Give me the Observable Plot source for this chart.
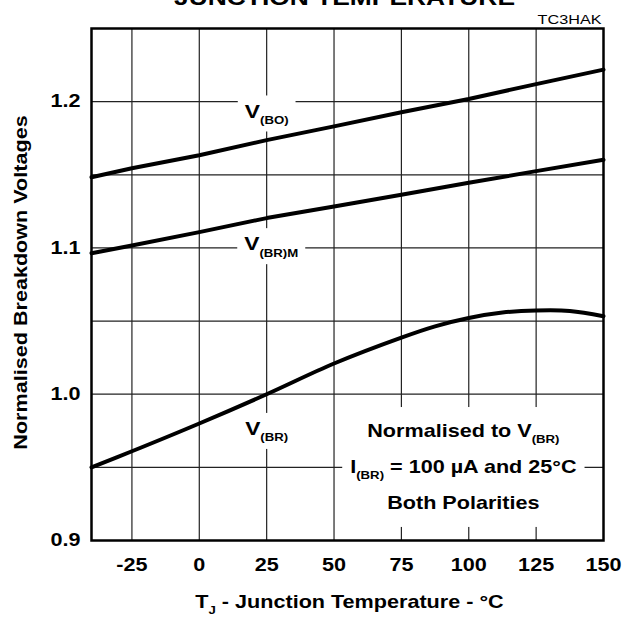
<!DOCTYPE html>
<html><head><meta charset="utf-8">
<script src="https://cdn.jsdelivr.net/npm/d3@7"></script>
<script src="https://cdn.jsdelivr.net/npm/@observablehq/plot@0.6"></script>
<style>html,body{margin:0;padding:0;background:#fff;overflow:hidden}</style>
</head><body><div id="chart"></div>
<script>
// ---- data ----
const temps = [-40, -25, 0, 25, 50, 75, 100, 125, 150];
const vBO  = [1.1483, 1.1545, 1.1634, 1.1737, 1.1831, 1.1927, 1.2018, 1.2120, 1.2219];
const vBRM = [1.0964, 1.1017, 1.1108, 1.1204, 1.1283, 1.1363, 1.1445, 1.1525, 1.1603];
const tempsBR = [-40, -25, 0, 25, 50, 75, 87.5, 100, 112.5, 125, 137.5, 150];
const vBR = [0.950, 0.961, 0.980, 1.000, 1.021, 1.0387, 1.0464, 1.0521, 1.0558, 1.0572, 1.0569, 1.0533];
const xTicks = [-25, 0, 25, 50, 75, 100, 125, 150];
const xGrid = [-25, 0, 25, 50, 75, 100, 125];
const yTicks = [0.9, 1.0, 1.1, 1.2];
const yGrid = [0.95, 1.0, 1.05, 1.1, 1.15, 1.2];
const curveLabels = ["V_{(BO)}", "V_{(BR)M}", "V_{(BR)}"];
const curveLabelT = [25, 26.7, 25];
const curveLabelV = [1.1932, 1.1025, 0.9762];
const noteText = "Normalised to V_{(BR)}\nI_{(BR)} = 100 µA and 25°C\nBoth Polarities";
const noteT = 98;
const noteV = 0.9538;
const title = "JUNCTION TEMPERATURE";
const figId = "TC3HAK";
const xTitle = "T_{J} - Junction Temperature - °C";
const yTitle = "Normalised Breakdown Voltages";

const S = 1.2; // horizontal stretch of the lettering
const ns = "http://www.w3.org/2000/svg";

const lineData = (ts, vs) => ts.map((t, i) => ({t, v: vs[i]}));
const bold = {fontWeight: "bold", fill: "black"};

const plot = Plot.plot({
  width: 630, height: 617,
  marginLeft: 91, marginRight: 27, marginTop: 28, marginBottom: 77,
  x: {domain: [-40, 150]},
  y: {domain: [0.9, 1.25]},
  style: {fontFamily: '"Liberation Sans", Arial, sans-serif', background: "white", color: "black", overflow: "visible"},
  marks: [
    Plot.ruleY(yGrid, {stroke: "#222", strokeWidth: 1.2}),
    Plot.ruleX(xGrid, {stroke: "#222", strokeWidth: 1.2}),
    Plot.text(curveLabels, {x: (d, i) => curveLabelT[i], y: (d, i) => curveLabelV[i], text: d => d, fontSize: 19, ...bold}),
    Plot.text([noteText], {x: () => noteT, y: () => noteV, text: d => d, fontSize: 18, lineHeight: 2, ...bold}),
    Plot.line(lineData(temps, vBO), {x: "t", y: "v", stroke: "black", strokeWidth: 4}),
    Plot.line(lineData(temps, vBRM), {x: "t", y: "v", stroke: "black", strokeWidth: 4}),
    Plot.line(lineData(tempsBR, vBR), {x: "t", y: "v", stroke: "black", strokeWidth: 4, curve: "catmull-rom"}),
    Plot.frame({stroke: "black", strokeWidth: 2.5}),
    Plot.axisX(xTicks, {tickSize: 0, tickPadding: 17.9, tickFormat: d => `${d}`, fontSize: 18, ...bold, label: null}),
    Plot.axisY(yTicks, {tickSize: 0, tickPadding: 11, tickFormat: d => d.toFixed(1), fontSize: 18, ...bold, label: null}),
    Plot.text([title], {frameAnchor: "top", dy: -24, dx: -3, lineAnchor: "bottom", text: d => d, fontSize: 22, ...bold}),
    Plot.text([figId], {frameAnchor: "top-right", textAnchor: "end", dy: -5, dx: -2, lineAnchor: "bottom", text: d => d, fontSize: 13.5, fill: "black"}),
    Plot.text([xTitle], {frameAnchor: "bottom", dy: 67.7, dx: 2, lineAnchor: "bottom", text: d => d, fontSize: 18, ...bold}),
    Plot.text([yTitle], {frameAnchor: "left", textAnchor: "middle", lineAnchor: "middle", dx: -70, dy: -2, rotate: -90, text: d => d, fontSize: 18, ...bold})
  ]
});
document.getElementById("chart").append(plot);
const svg = plot.tagName.toLowerCase() === "svg" ? plot : plot.querySelector("svg");

// identify the in-plot labels that sit on a white box (before rewriting them)
const allTexts = [...svg.querySelectorAll("text")];
const boxed = [];
allTexts.forEach(t => {
  const c = t.textContent;
  if (curveLabels.includes(c)) boxed.push([t, 7, 5]);
  else if (c.startsWith("Normalised to")) boxed.push([t, 8, 14]);
});

// subscripts: "_{...}"
allTexts.forEach(t => {
  const fs = parseFloat(getComputedStyle(t).fontSize) || 18;
  const spans = [...t.querySelectorAll("tspan")];
  const leaves = spans.length ? spans : [t];
  leaves.forEach(el => {
    const s = el.textContent;
    if (!s.includes("_{")) return;
    el.textContent = "";
    s.split(/_\{([^}]*)\}/).forEach((p, k) => {
      if (!p) return;
      if (k % 2 === 0) el.appendChild(document.createTextNode(p));
      else {
        const ts = document.createElementNS(ns, "tspan");
        ts.setAttribute("font-size", 11);
        ts.setAttribute("baseline-shift", (-0.32 * fs).toFixed(1));
        ts.textContent = p;
        el.appendChild(ts);
      }
    });
  });
});

// wide lettering: stretch each text horizontally about its own anchor
allTexts.forEach(t => {
  const tr = t.getAttribute("transform") || "";
  const ax = parseFloat(t.getAttribute("x")) || 0;
  t.setAttribute("transform", `${tr} translate(${ax},0) scale(${S},1) translate(${-ax},0)`.trim());
});

// white boxes behind the in-plot labels
const sr = svg.getBoundingClientRect();
boxed.forEach(([t, px, py]) => {
  const r = t.getBoundingClientRect();
  const rect = document.createElementNS(ns, "rect");
  rect.setAttribute("x", r.left - sr.left - px);
  rect.setAttribute("y", r.top - sr.top - py);
  rect.setAttribute("width", r.width + 2 * px);
  rect.setAttribute("height", r.height + 2 * py);
  rect.setAttribute("fill", "white");
  let g = t;
  while (g.parentNode && g.parentNode !== svg) g = g.parentNode;
  svg.insertBefore(rect, g);
});
</script></body></html>
